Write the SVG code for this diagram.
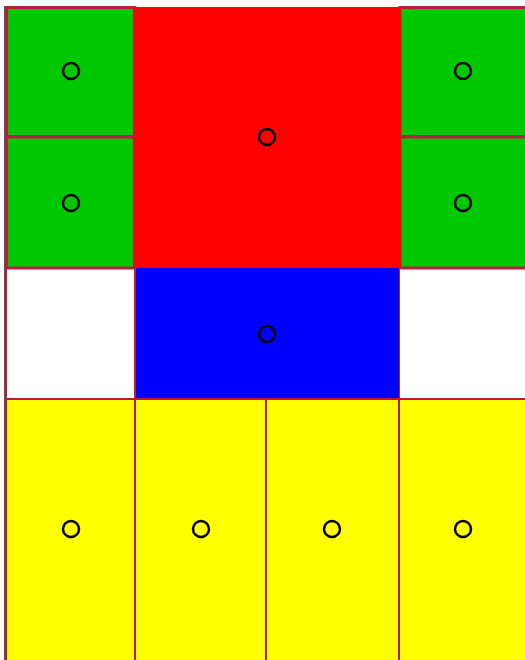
<svg xmlns="http://www.w3.org/2000/svg" width="525" height="660" viewBox="0 0 525 660">
<style>
.c{stroke:#c0183c;stroke-width:2}
.t{stroke:#b81e40;stroke-width:3}
.g{fill:#00c800}.r{fill:#ff0000}.b{fill:#0000ff}.y{fill:#ffff00}.w{fill:#ffffff}
.o{fill:none;stroke:#000;stroke-width:2.5}
</style>
<rect x="0" y="0" width="525" height="660" fill="#fff"/>
<line x1="5" y1="6" x2="5" y2="660" stroke="#555" stroke-width="2"/>
<g id="w1"><rect class="c w" x="6" y="268" width="129" height="131"/></g>
<g id="w2"><rect class="c w" x="399" y="268" width="131" height="131"/></g>
<g id="y1"><rect class="c y" x="6" y="399" width="129" height="262"/><circle class="o" cx="71" cy="529" r="8"/></g>
<g id="y2"><rect class="c y" x="135" y="399" width="131" height="262"/><circle class="o" cx="201" cy="529" r="8"/></g>
<g id="y3"><rect class="c y" x="266" y="399" width="133" height="262"/><circle class="o" cx="332" cy="529" r="8"/></g>
<g id="y4"><rect class="c y" x="399" y="399" width="131" height="262"/><circle class="o" cx="463" cy="529" r="8"/></g>
<g id="g1"><rect class="t g" x="6.5" y="7.5" width="128" height="129"/><circle class="o" cx="71" cy="71" r="8"/></g>
<g id="g2"><rect class="t g" x="6.5" y="137" width="128" height="131"/><circle class="o" cx="71" cy="203" r="8"/></g>
<g id="g3"><rect class="t g" x="400" y="7.5" width="131" height="129"/><circle class="o" cx="463" cy="71" r="8"/></g>
<g id="g4"><rect class="t g" x="400" y="137" width="131" height="131"/><circle class="o" cx="463" cy="203" r="8"/></g>
<g id="red"><rect class="r" x="134" y="7" width="267" height="261"/><circle class="o" cx="267" cy="137" r="8"/></g>
<g id="blue"><rect class="b" x="136" y="268" width="263" height="130"/><circle class="o" cx="267" cy="334" r="8"/></g>
<g id="connectors"></g>
</svg>
